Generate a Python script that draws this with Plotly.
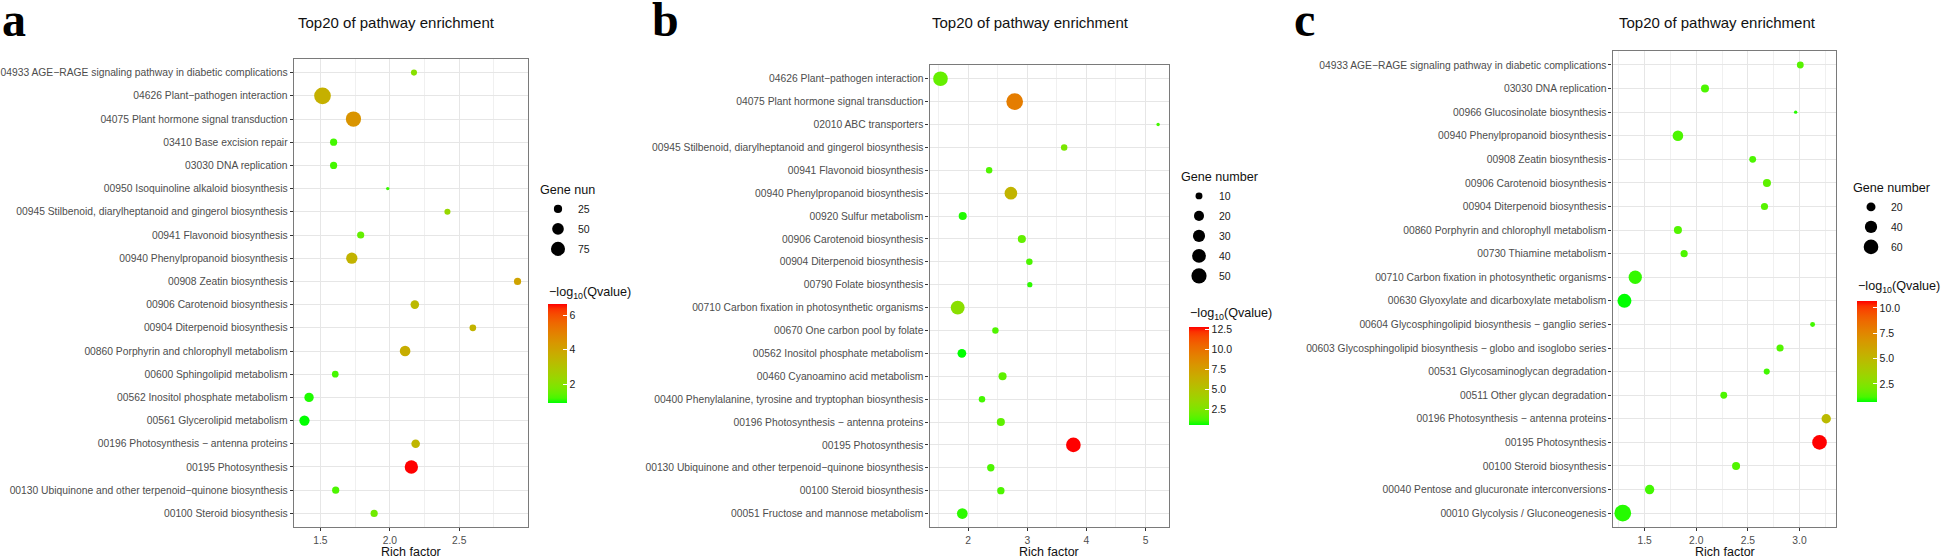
import numpy as np
import plotly.graph_objects as go

W, H = 1946, 560

# ---------------- data (rows listed top to bottom) ----------------
paths_a = [
    "04933 AGE−RAGE signaling pathway in diabetic complications",
    "04626 Plant−pathogen interaction",
    "04075 Plant hormone signal transduction",
    "03410 Base excision repair",
    "03030 DNA replication",
    "00950 Isoquinoline alkaloid biosynthesis",
    "00945 Stilbenoid, diarylheptanoid and gingerol biosynthesis",
    "00941 Flavonoid biosynthesis",
    "00940 Phenylpropanoid biosynthesis",
    "00908 Zeatin biosynthesis",
    "00906 Carotenoid biosynthesis",
    "00904 Diterpenoid biosynthesis",
    "00860 Porphyrin and chlorophyll metabolism",
    "00600 Sphingolipid metabolism",
    "00562 Inositol phosphate metabolism",
    "00561 Glycerolipid metabolism",
    "00196 Photosynthesis − antenna proteins",
    "00195 Photosynthesis",
    "00130 Ubiquinone and other terpenoid−quinone biosynthesis",
    "00100 Steroid biosynthesis",
]
rich_a = [2.174, 1.515, 1.738, 1.595, 1.595, 1.985, 2.415, 1.790, 1.726, 2.920,
          2.180, 2.598, 2.110, 1.607, 1.418, 1.385, 2.186, 2.155, 1.610, 1.887]
genes_a = [16, 110, 90, 20, 20, 12, 16, 20, 47, 20, 27, 18, 41, 18, 32, 38, 27, 66, 20, 20]
qval_a = [2.0, 3.6, 4.45, 1.15, 1.15, 1.1, 2.3, 1.45, 3.5, 4.0,
          3.3, 3.5, 3.7, 1.15, 1.0, 0.88, 3.4, 6.64, 1.2, 1.6]

paths_b = [
    "04626 Plant−pathogen interaction",
    "04075 Plant hormone signal transduction",
    "02010 ABC transporters",
    "00945 Stilbenoid, diarylheptanoid and gingerol biosynthesis",
    "00941 Flavonoid biosynthesis",
    "00940 Phenylpropanoid biosynthesis",
    "00920 Sulfur metabolism",
    "00906 Carotenoid biosynthesis",
    "00904 Diterpenoid biosynthesis",
    "00790 Folate biosynthesis",
    "00710 Carbon fixation in photosynthetic organisms",
    "00670 One carbon pool by folate",
    "00562 Inositol phosphate metabolism",
    "00460 Cyanoamino acid metabolism",
    "00400 Phenylalanine, tyrosine and tryptophan biosynthesis",
    "00196 Photosynthesis − antenna proteins",
    "00195 Photosynthesis",
    "00130 Ubiquinone and other terpenoid−quinone biosynthesis",
    "00100 Steroid biosynthesis",
    "00051 Fructose and mannose metabolism",
]
rich_b = [1.532, 2.787, 5.213, 3.624, 2.355, 2.723, 1.908, 2.908, 3.035, 3.043,
          1.823, 2.461, 1.894, 2.582, 2.234, 2.553, 3.780, 2.383, 2.553, 1.901]
genes_b = [46, 62, 6, 9, 9, 33, 13, 13, 9, 7, 41, 9, 15, 13, 9, 13, 46, 11, 11, 23]
qval_b = [1.85, 9.4, 1.2, 2.45, 1.4, 6.1, 0.9, 1.8, 1.3, 1.0,
          3.05, 1.4, 0.63, 1.7, 1.2, 1.7, 12.79, 1.3, 1.3, 1.0]

paths_c = [
    "04933 AGE−RAGE signaling pathway in diabetic complications",
    "03030 DNA replication",
    "00966 Glucosinolate biosynthesis",
    "00940 Phenylpropanoid biosynthesis",
    "00908 Zeatin biosynthesis",
    "00906 Carotenoid biosynthesis",
    "00904 Diterpenoid biosynthesis",
    "00860 Porphyrin and chlorophyll metabolism",
    "00730 Thiamine metabolism",
    "00710 Carbon fixation in photosynthetic organisms",
    "00630 Glyoxylate and dicarboxylate metabolism",
    "00604 Glycosphingolipid biosynthesis − ganglio series",
    "00603 Glycosphingolipid biosynthesis − globo and isoglobo series",
    "00531 Glycosaminoglycan degradation",
    "00511 Other glycan degradation",
    "00196 Photosynthesis − antenna proteins",
    "00195 Photosynthesis",
    "00100 Steroid biosynthesis",
    "00040 Pentose and glucuronate interconversions",
    "00010 Glycolysis / Gluconeogenesis",
]
rich_c = [3.008, 2.085, 2.963, 1.823, 2.547, 2.685, 2.661, 1.823, 1.883, 1.410,
          1.305, 3.127, 2.812, 2.683, 2.267, 3.259, 3.194, 2.386, 1.549, 1.289]
genes_c = [12, 16, 7, 29, 12, 16, 13, 16, 13, 48, 54, 8, 13, 10, 12, 22, 60, 16, 22, 81]
qval_c = [1.5, 1.3, 1.0, 1.3, 1.3, 1.6, 1.5, 1.4, 1.3, 1.1,
          0.75, 1.2, 1.4, 1.2, 1.3, 4.9, 10.72, 1.4, 1.2, 1.0]

size_breaks_a = [25, 50, 75]
size_breaks_b = [10, 20, 30, 40, 50]
size_breaks_c = [20, 40, 60]
size_titles = ["Gene nun", "Gene number", "Gene number"]
color_ticks_a = [2, 4, 6]
color_ticks_b = [2.5, 5.0, 7.5, 10.0, 12.5]
color_ticks_c = [2.5, 5.0, 7.5, 10.0]
panel_letters = ["a", "b", "c"]
title_text = "Top20 of pathway enrichment"
x_title = "Rich factor"


# ---------------- helpers ----------------
# green -> red gradient interpolated in CIE Lab (like ggplot's scale_colour_gradient)
def _lin(c):
    c = c / 255
    return c / 12.92 if c <= 0.04045 else ((c + 0.055) / 1.055) ** 2.4


def _gam(c):
    c = 12.92 * c if c <= 0.0031308 else 1.055 * max(c, 0) ** (1 / 2.4) - 0.055
    return int(round(min(max(c, 0), 1) * 255))


def _f(t):
    d = 6 / 29
    return t ** (1 / 3) if t > d ** 3 else t / (3 * d * d) + 4 / 29


def _finv(t):
    d = 6 / 29
    return t ** 3 if t > d else 3 * d * d * (t - 4 / 29)


def to_lab(rgb):
    r, g, b = [_lin(v) for v in rgb]
    x = (0.4124 * r + 0.3576 * g + 0.1805 * b) / 0.95047
    y = 0.2126 * r + 0.7152 * g + 0.0722 * b
    z = (0.0193 * r + 0.1192 * g + 0.9505 * b) / 1.08883
    fx, fy, fz = _f(x), _f(y), _f(z)
    return 116 * fy - 16, 500 * (fx - fy), 200 * (fy - fz)


def from_lab(L, a, b):
    fy = (L + 16) / 116
    x = 0.95047 * _finv(fy + a / 500)
    y = _finv(fy)
    z = 1.08883 * _finv(fy - b / 200)
    r = 3.2406 * x - 1.5372 * y - 0.4986 * z
    g = -0.9689 * x + 1.8758 * y + 0.0415 * z
    bb = 0.0557 * x - 0.2040 * y + 1.0570 * z
    return "rgb(%d,%d,%d)" % (_gam(r), _gam(g), _gam(bb))


lo_lab, hi_lab = to_lab((0, 255, 0)), to_lab((255, 0, 0))
gradient = []
for t in np.linspace(0, 1, 21):
    gradient.append([float(t), from_lab(*[lo_lab[i] + t * (hi_lab[i] - lo_lab[i]) for i in range(3)])])

D_MIN, D_MAX = 3.4, 16.7


def diam(g, lo, hi):
    # area scale: diameter grows with sqrt of the rescaled gene count
    g = np.asarray(g, dtype=float)
    return D_MIN + (D_MAX - D_MIN) * np.sqrt(np.clip((g - lo) / (hi - lo), 0, 1))


def px_x(v):
    return v / W


def px_y(v):
    return 1 - v / H


# ---------------- panels ----------------
panels = [
    dict(paths=paths_a, rich=rich_a, genes=genes_a, q=qval_a, breaks=size_breaks_a,
         cticks=color_ticks_a, ctext=["2", "4", "6"], dtick=0.5, fmt=".1f",
         box=(293.8, 528.2, 58.7), title_x=396, letter_x=0,
         leg=(538, 178), cbar=(548.3, 304.3, 99, 19.4), cb_title_y=292.7),
    dict(paths=paths_b, rich=rich_b, genes=genes_b, q=qval_b, breaks=size_breaks_b,
         cticks=color_ticks_b, ctext=["2.5", "5.0", "7.5", "10.0", "12.5"], dtick=1, fmt="d",
         box=(929.6, 1169.0, 65.0), title_x=1030.6, letter_x=650,
         leg=(1179, 165), cbar=(1188.7, 326.7, 98.3, 19.6), cb_title_y=314),
    dict(paths=paths_c, rich=rich_c, genes=genes_c, q=qval_c, breaks=size_breaks_c,
         cticks=color_ticks_c, ctext=["2.5", "5.0", "7.5", "10.0"], dtick=0.5, fmt=".1f",
         box=(1612.6, 1836.4, 50.8), title_x=1717.6, letter_x=1292,
         leg=(1851, 176), cbar=(1856.7, 300.7, 101, 20.3), cb_title_y=287.3),
]

BOTTOM = 527.3
FONT = "Liberation Sans, Arial, sans-serif"

fig = go.Figure()
layout = dict(width=W, height=H, margin=dict(l=0, r=0, t=0, b=0),
              paper_bgcolor="white", plot_bgcolor="white",
              font=dict(family=FONT, color="#1a1a1a"), annotations=[])

for i, p in enumerate(panels):
    k = "" if i == 0 else str(i + 1)
    xa, ya, ca, lg = "x" + k, "y" + k, "coloraxis" + k, "legend" + k
    glo, ghi = min(p["genes"]), max(p["genes"])

    fig.add_trace(go.Scatter(
        x=p["rich"], y=p["paths"], mode="markers", xaxis=xa, yaxis=ya, showlegend=False,
        marker=dict(size=diam(p["genes"], glo, ghi), color=p["q"], coloraxis=ca,
                    opacity=1, line=dict(width=0)),
        hovertemplate="%{y}<br>Rich factor %{x}<extra></extra>"))

    # size legend entries
    for b in p["breaks"]:
        fig.add_trace(go.Scatter(
            x=[None], y=[None], mode="markers", xaxis=xa, yaxis=ya, name=str(b),
            legend=lg, legendgroup=lg + str(b), showlegend=True,
            marker=dict(size=float(diam(b, glo, ghi)), color="black", line=dict(width=0))))

    left, right, top = p["box"]
    lo, hi = min(p["rich"]), max(p["rich"])
    pad = 0.05 * (hi - lo)
    n = len(p["paths"])

    layout["xaxis" + k] = dict(
        domain=[px_x(left), px_x(right)], anchor=ya, range=[lo - pad, hi + pad],
        tick0=0, dtick=p["dtick"], tickformat=p["fmt"],
        showgrid=True, gridcolor="#E6E6E6", gridwidth=1.1,
        minor=dict(dtick=p["dtick"] / 2, tick0=0, showgrid=True, gridcolor="#F0F0F0", gridwidth=0.7),
        ticks="outside", ticklen=3, tickcolor="#333333", tickwidth=1,
        tickfont=dict(size=10.3, color="#4D4D4D"),
        showline=True, mirror=True, linecolor="#7A7A7A", linewidth=1.3, zeroline=False)
    layout["yaxis" + k] = dict(
        domain=[px_y(BOTTOM), px_y(top)], anchor=xa, type="category",
        categoryorder="array", categoryarray=list(reversed(p["paths"])),
        range=[-0.6, n - 0.4], showgrid=True, gridcolor="#E6E6E6", gridwidth=1.1,
        ticks="outside", ticklen=3, tickcolor="#333333", tickwidth=1,
        tickfont=dict(size=10.3, color="#4D4D4D"),
        showline=True, mirror=True, linecolor="#7A7A7A", linewidth=1.3, zeroline=False)

    cx, cy, clen, cth = p["cbar"]
    layout[ca] = dict(
        colorscale=gradient, cmin=min(p["q"]), cmax=max(p["q"]),
        colorbar=dict(x=px_x(cx), xanchor="left", y=px_y(cy), yanchor="top",
                      len=clen, lenmode="pixels", thickness=cth, thicknessmode="pixels",
                      xpad=0, ypad=0, outlinewidth=0, ticks="inside", ticklen=4,
                      tickcolor="white", tickwidth=1, tickvals=p["cticks"], ticktext=p["ctext"],
                      tickfont=dict(size=10.5, color="#1a1a1a")))

    lx, ly = p["leg"]
    layout[lg] = dict(
        x=px_x(lx), y=px_y(ly), xanchor="left", yanchor="top", bgcolor="rgba(0,0,0,0)",
        itemsizing="trace", tracegroupgap=1, itemclick=False, itemdoubleclick=False,
        font=dict(size=10.5, color="#1a1a1a"),
        title=dict(text=size_titles[i], font=dict(size=12.6, color="#111111")))

    layout["annotations"] += [
        dict(text=title_text, x=px_x(p["title_x"]), y=px_y(23), xref="paper", yref="paper",
             xanchor="center", yanchor="middle", showarrow=False,
             font=dict(size=15, color="#111111")),
        dict(text=x_title, x=px_x((left + right) / 2), y=px_y(551.5), xref="paper", yref="paper",
             xanchor="center", yanchor="middle", showarrow=False,
             font=dict(size=12.5, color="#111111")),
        dict(text=panel_letters[i], x=px_x(p["letter_x"]), y=px_y(20), xref="paper", yref="paper",
             xanchor="left", yanchor="middle", showarrow=False,
             font=dict(family="Liberation Serif, Times New Roman, serif", size=48,
                       color="black", weight="bold")),
        dict(text="−log<sub>10</sub>(Qvalue)", x=px_x(cx - 1), y=px_y(p["cb_title_y"]),
             xref="paper", yref="paper", xanchor="left", yanchor="middle", showarrow=False,
             font=dict(size=12.6, color="#111111")),
    ]

fig.update_layout(**layout)
# drop the browser's default 8px body margin so the figure fills the window exactly
fig.write_html("out.html", config={"displayModeBar": False},
               post_script="document.body.style.margin='0';")
